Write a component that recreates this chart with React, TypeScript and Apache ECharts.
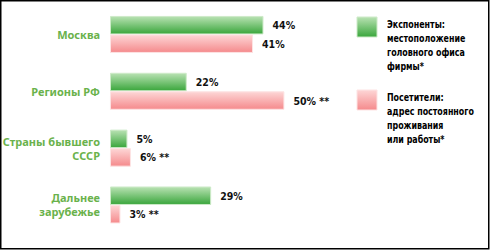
import React, { useEffect, useRef } from "react";
import * as echarts from "echarts";

const categories = ["Москва", "Регионы РФ", "Страны бывшего\nСССР", "Дальнее\nзарубежье"];
const exhibitors = [44, 22, 5, 29];
const visitors = [41, 50, 6, 3];
const visitorNotes = ["", " **", " **", " **"];
const legendExhibitors = "Экспоненты:\nместоположение\nголовного офиса\nфирмы*";
const legendVisitors = "Посетители:\nадрес постоянного\nпроживания\nили работы*";

const narrow = "'DejaVu Sans Condensed', 'Roboto', sans-serif";

export default function App() {
  const ref = useRef<HTMLDivElement>(null);
  useEffect(() => {
    if (!ref.current) return;
    const chart = echarts.init(ref.current, null, { renderer: "svg" });
    const green = new echarts.graphic.LinearGradient(0, 0, 0, 1, [
      { offset: 0, color: "#b9e2b3" },
      { offset: 1, color: "#3aa63c" },
    ]);
    const pink = new echarts.graphic.LinearGradient(0, 0, 0, 1, [
      { offset: 0, color: "#fdd6d6" },
      { offset: 1, color: "#f58a8c" },
    ]);
    const labelStyle = {
      show: true,
      position: "right" as const,
      distance: 9,
      color: "#111",
      fontFamily: narrow,
      fontSize: 10.5,
      fontWeight: "bold" as const,
    };
    const legendText = (text: string, y: number) => ({
      type: "text",
      x: 387,
      y,
      scaleX: 0.8,
      style: {
        text,
        fill: "#000",
        fontFamily: "'DejaVu Sans Condensed', Roboto, sans-serif",
        fontSize: 11,
        fontWeight: "bold",
        lineHeight: 14,
        verticalAlign: "top",
      },
    });
    chart.setOption({
      animation: false,
      backgroundColor: "#ffffff",
      grid: {
        left: 110,
        top: 6,
        bottom: 16.6,
        width: 209.3,
        containLabel: false,
        outerBoundsMode: "none",
      },
      xAxis: { type: "value", min: 0, max: 60, show: false },
      yAxis: {
        type: "category",
        inverse: true,
        data: categories,
        axisLine: { show: false },
        axisTick: { show: false },
        axisLabel: {
          margin: 10,
          color: "#6ab24c",
          fontFamily: "'Noto Sans', 'Open Sans', sans-serif",
          fontWeight: "bold",
          fontSize: 11,
          lineHeight: 14,
          align: "right",
        },
      },
      series: [
        {
          type: "bar",
          data: exhibitors,
          barWidth: 18.5,
          barGap: "0%",
          itemStyle: { color: green, borderColor: "#cdeac8", borderWidth: 1 },
          label: { ...labelStyle, formatter: (p: any) => `${p.value}%` },
        },
        {
          type: "bar",
          data: visitors,
          barWidth: 18.5,
          barGap: "0%",
          itemStyle: { color: pink, borderColor: "#fde3e3", borderWidth: 1 },
          label: { ...labelStyle, formatter: (p: any) => `${p.value}%${visitorNotes[p.dataIndex]}` },
        },
      ],
      graphic: [
        {
          type: "rect",
          shape: { x: 0.75, y: 0.75, width: 488, height: 248 },
          style: { fill: "none", stroke: "#000", lineWidth: 1.5 },
          silent: true,
        },
        {
          type: "rect",
          shape: { x: 357, y: 17, width: 20, height: 20 },
          style: { fill: green, stroke: "#cdeac8", lineWidth: 1 },
        },
        {
          type: "rect",
          shape: { x: 357, y: 90, width: 20, height: 20 },
          style: { fill: pink, stroke: "#fde3e3", lineWidth: 1 },
        },
        legendText(legendExhibitors, 17),
        legendText(legendVisitors, 90),
      ],
    });
    return () => chart.dispose();
  }, []);
  return (
    <div
      ref={ref}
      style={{ position: "absolute", left: 0, top: 0, width: 491, height: 250 }}
    />
  );
}
